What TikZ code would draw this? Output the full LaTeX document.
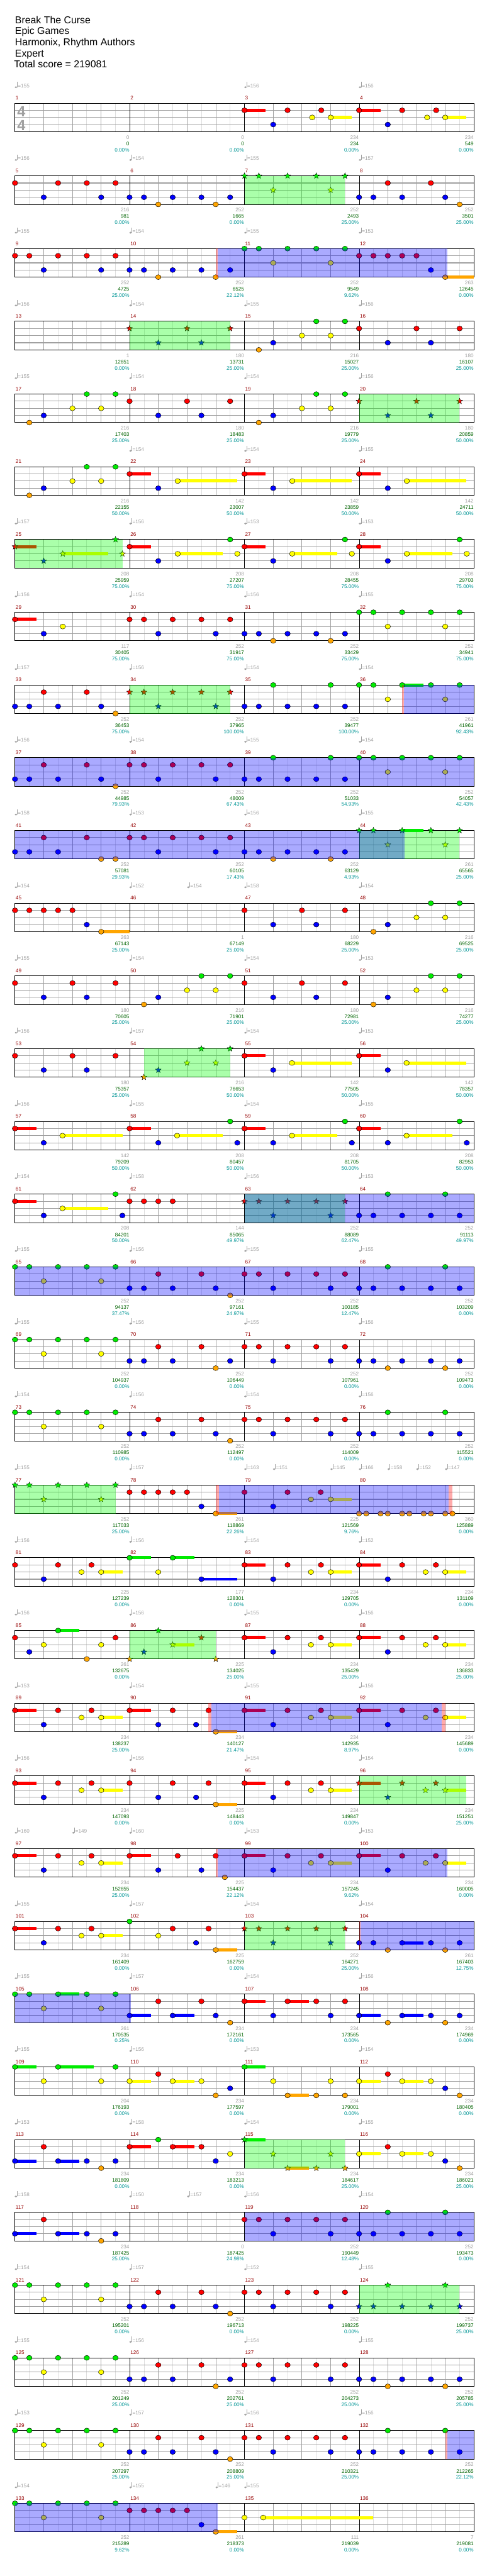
\documentclass[tikz,border=0pt]{standalone}
\usepackage{fontspec}
\setmainfont{Liberation Sans}
\usetikzlibrary{shapes.geometric}

\definecolor{lane0}{RGB}{0,235,0}
\definecolor{lane1}{RGB}{255,0,0}
\definecolor{lane2}{RGB}{255,255,0}
\definecolor{lane3}{RGB}{0,0,255}
\definecolor{lane4}{RGB}{255,165,0}
\definecolor{barred}{RGB}{150,0,0}
\definecolor{scoregray}{RGB}{160,160,160}
\definecolor{scoregreen}{RGB}{0,100,0}
\definecolor{scoreteal}{RGB}{0,150,150}
\definecolor{gridlight}{RGB}{222,222,222}
\definecolor{griddark}{RGB}{160,160,160}
\definecolor{odgreencol}{RGB}{0,255,0}
\definecolor{odbluecol}{RGB}{0,0,255}

\newcommand{\chartfont}{\fontsize{10.8}{12}\selectfont}

\tikzset{
  halfbeat/.style={gridlight, line width=0.8pt},
  beatline/.style={griddark, line width=0.8pt},
  laneline/.style={griddark, line width=1.4pt},
  barline/.style={black, line width=0.9pt},
  border/.style={black, line width=1.3pt},
  gem/.style={ellipse, draw=black, line width=0.6pt, minimum width=11.5pt, minimum height=10.5pt, inner sep=0pt},
  stargem/.style={star, star points=5, star point ratio=2.3, draw=black, line width=0.5pt, minimum size=13pt, inner sep=0pt},
  barnum/.style={anchor=base west, text=barred, font=\chartfont, inner sep=0pt},
  tempotext/.style={anchor=base west, text=scoregray, font=\chartfont, inner sep=0pt},
  ptsgray/.style={anchor=base east, text=scoregray, font=\chartfont, inner sep=0pt},
  ptsgreen/.style={anchor=base east, text=scoregreen, font=\chartfont, inner sep=0pt},
  ptsteal/.style={anchor=base east, text=scoreteal, font=\chartfont, inner sep=0pt},
  headline/.style={anchor=base west, font=\fontsize{21}{24}\selectfont, inner sep=0pt},
  timesig/.style={anchor=base, text=griddark, font=\fontsize{31}{31}\selectfont\bfseries, inner sep=0pt},
  odgreen/.style={fill=odgreencol, fill opacity=0.333},
  odblue/.style={fill=odbluecol, fill opacity=0.333},
  odred/.style={fill=red, fill opacity=0.333}
}

% 五线谱格子与小节号
\newcommand{\staff}[1]{%
  \foreach \k in {1,3,...,31} \draw[halfbeat] (48+45.9375*\k,0) -- (48+45.9375*\k,60);
  \foreach \k in {2,4,...,30} \draw[beatline] (48+45.9375*\k,0) -- (48+45.9375*\k,60);
  \foreach \yy in {15,30,45} \draw[laneline] (48,\yy) -- (1518,\yy);
  \foreach \k in {1,2,3} \draw[barline] (48+367.5*\k,0) -- (48+367.5*\k,60);
  \draw[border] (48,0) rectangle (1518,60);
  \foreach \i in {0,...,3} \node[barnum] (bar\i) at (50+367.5*\i,-7) {\the\numexpr#1+\i\relax};
}
% 速度标记
\newcommand{\tempi}[1]{%
  \foreach \tx/\tv in {#1}{%
    \fill[scoregray] (\tx+3,-33.5) ellipse (2.6pt and 2pt);
    \draw[scoregray, line width=0.7pt] (\tx+6.6,-33.5) -- (\tx+6.6,-44.5);
    \node[tempotext] at (\tx+9,-33) {=\tv};
  }}
% 延音条
\newcommand{\holds}[1]{%
  \foreach \ha/\hb/\hl in {#1} \fill[lane\hl] (\ha,15*\hl-3.3) rectangle (\hb,15*\hl+3.3);}
% 音符
\newcommand{\gems}[1]{%
  \foreach \gx/\gl in {#1} \node[gem, fill=lane\gl] at (\gx,15*\gl) {};}
\newcommand{\stargems}[1]{%
  \foreach \gx/\gl in {#1} \node[stargem, fill=lane\gl] at (\gx,15*\gl) {};}
% 能量区
\newcommand{\odphrase}[1]{\foreach \ha/\hb in {#1} \fill[odgreen] (\ha,0) rectangle (\hb,60);}
\newcommand{\odzone}[1]{\foreach \ha/\hb in {#1} \fill[odblue] (\ha,0) rectangle (\hb,60);}
\newcommand{\odlead}[1]{\foreach \ha/\hb in {#1} \fill[odred] (\ha,0) rectangle (\hb,60);}
% 小节得分
\newcommand{\scores}[1]{%
  \foreach \sa/\sb/\sc [count=\i] in {#1}{%
    \node[ptsgray]  at (47+367.5*\i,75.7) {\sa};
    \node[ptsgreen] at (47+367.5*\i,89) {\sb};
    \node[ptsteal]  at (47+367.5*\i,102) {\sc\%};
  }}

\begin{document}
\begin{tikzpicture}[x=0.6565pt, y=-1pt]
  \fill[white] (0,0) rectangle (1559.8,5419);
  \useasboundingbox (0,0) rectangle (1559.8,5419);
  % 标题
  \node[headline] (title)  at (48,49.3)  {Break The Curse};
  \node[headline] (artist) at (48,72.6)  {Epic Games};
  \node[headline] (author) at (48,96)    {Harmonix, Rhythm Authors};
  \node[headline] (level)  at (48,119.3) {Expert};
  \node[headline] (total)  at (45,142.6) {Total score = 219081};

  % 第1行
  \begin{scope}[shift={(0,217)}]
    \staff{1}
    \node[timesig] (sigtop) at (68.5,28) {4};
    \node[timesig] (sigbot) at (68.5,57) {4};
    \tempi{48/155, 783/156, 1150/156}
    \holds{783/851/1, 1059/1127/2, 1150/1219/1, 1426/1494/2}
    \gems{783/1, 875/3, 921/1, 1000/2, 1029/1, 1059/2, 1150/1, 1242/3, 1288/1, 1368/2, 1397/1, 1426/2}
    \scores{0/0/0.00, 0/0/0.00, 234/234/0.00, 234/549/0.00}
  \end{scope}
  % 第2行
  \begin{scope}[shift={(0,370)}]
    \staff{5}
    \tempi{48/156, 415/154, 783/155, 1150/157}
    \gems{48/1, 140/3, 186/1, 278/1, 324/3, 370/1, 415/3, 461/3, 507/4, 553/3, 645/3, 691/4, 737/3, 1150/3, 1196/3, 1242/1, 1288/3, 1380/1, 1426/3, 1472/4}
    \stargems{783/0, 829/0, 875/2, 921/0, 1013/0, 1059/2, 1105/0}
    \odphrase{783/1105}
    \scores{216/981/0.00, 252/1665/0.00, 252/2493/25.00, 252/3501/25.00}
  \end{scope}
  % 第3行
  \begin{scope}[shift={(0,523)}]
    \staff{9}
    \tempi{48/155, 415/154, 783/155, 1150/153}
    \holds{1426/1518/4}
    \gems{48/1, 94/1, 140/3, 186/1, 278/1, 324/3, 370/1, 415/3, 461/3, 507/4, 553/3, 645/3, 691/4, 737/3, 783/0, 829/0, 875/2, 921/0, 1013/0, 1059/2, 1105/0, 1150/1, 1196/1, 1242/1, 1288/1, 1334/1, 1380/3, 1426/4}
    \odlead{691/697}
    \odzone{697/1432}
    \scores{252/4725/25.00, 252/6525/22.12, 252/9549/9.62, 263/12645/0.00}
  \end{scope}
  % 第4行
  \begin{scope}[shift={(0,676)}]
    \staff{13}
    \tempi{48/156, 415/154, 783/155, 1150/156}
    \gems{829/4, 875/3, 967/2, 1013/0, 1059/2, 1105/0, 1150/1, 1242/3, 1334/1, 1380/3, 1472/1}
    \stargems{415/1, 507/3, 599/1, 645/3, 737/1}
    \odphrase{415/737}
    \scores{1/12651/0.00, 180/13731/25.00, 216/15027/25.00, 180/16107/25.00}
  \end{scope}
  % 第5行
  \begin{scope}[shift={(0,829)}]
    \staff{17}
    \tempi{48/155, 415/154, 783/154, 1150/156}
    \gems{94/4, 140/3, 232/2, 278/0, 324/2, 370/0, 415/1, 507/3, 599/1, 645/3, 737/1, 829/4, 875/3, 967/2, 1013/0, 1059/2, 1105/0}
    \stargems{1150/1, 1242/3, 1334/1, 1380/3, 1472/1}
    \odphrase{1150/1472}
    \scores{216/17403/25.00, 180/18483/25.00, 216/19779/25.00, 180/20859/50.00}
  \end{scope}
  % 第6行
  \begin{scope}[shift={(0,982)}]
    \staff{21}
    \tempi{415/154, 783/154, 1150/155}
    \holds{415/484/1, 569/759/2, 783/851/1, 936/1127/2, 1150/1219/1, 1303/1494/2}
    \gems{94/4, 140/3, 232/2, 278/0, 324/2, 370/0, 415/1, 507/3, 569/2, 783/1, 875/3, 936/2, 1150/1, 1242/3, 1303/2}
    \scores{216/22155/50.00, 142/23007/50.00, 142/23859/50.00, 142/24711/50.00}
  \end{scope}
  % 第7行
  \begin{scope}[shift={(0,1135)}]
    \staff{25}
    \tempi{48/157, 415/156, 783/153, 1150/153}
    \holds{48/116/1, 201/346/2, 415/484/1, 569/713/2, 783/851/1, 936/1081/2, 1150/1219/1, 1303/1449/2}
    \stargems{48/1, 140/3, 201/2, 370/0, 392/2}
    \gems{415/1, 507/3, 569/2, 737/0, 760/2, 783/1, 875/3, 936/2, 1105/0, 1127/2, 1150/1, 1242/3, 1303/2, 1472/0, 1495/2}
    \odphrase{48/392}
    \scores{208/25959/75.00, 208/27207/75.00, 208/28455/75.00, 208/29703/75.00}
  \end{scope}
  % 第8行
  \begin{scope}[shift={(0,1288)}]
    \staff{29}
    \tempi{48/156, 415/154, 783/156, 1150/155}
    \holds{48/116/1}
    \gems{48/1, 140/3, 201/2, 415/1, 461/1, 507/3, 553/1, 645/1, 691/3, 737/1, 783/3, 829/3, 875/4, 921/3, 1013/3, 1059/4, 1105/3, 1150/0, 1196/0, 1242/2, 1288/0, 1380/0, 1426/2, 1472/0}
    \scores{117/30405/75.00, 252/31917/75.00, 252/33429/75.00, 252/34941/75.00}
  \end{scope}
  % 第9行
  \begin{scope}[shift={(0,1441)}]
    \staff{33}
    \tempi{48/157, 415/156, 783/154, 1150/154}
    \holds{1288/1357/0}
    \gems{48/3, 94/3, 140/1, 186/3, 278/1, 324/3, 370/4, 783/3, 829/3, 875/0, 921/3, 1013/3, 1059/0, 1105/3, 1150/0, 1196/0, 1242/2, 1288/0, 1380/0, 1426/2, 1472/0}
    \stargems{415/1, 461/1, 507/3, 553/1, 645/1, 691/3, 737/1}
    \odphrase{415/737}
    \odlead{1288/1293}
    \odzone{1293/1518}
    \scores{252/36453/75.00, 252/37965/100.00, 252/39477/100.00, 261/41961/92.43}
  \end{scope}
  % 第10行
  \begin{scope}[shift={(0,1594)}]
    \staff{37}
    \tempi{48/156, 415/154, 783/155, 1150/154}
    \gems{48/3, 94/3, 140/1, 186/3, 278/1, 324/3, 370/4, 415/1, 461/1, 507/3, 553/1, 645/1, 691/3, 737/1, 783/3, 829/3, 875/0, 921/3, 1013/3, 1059/0, 1105/3, 1150/0, 1196/0, 1242/2, 1288/0, 1380/0, 1426/2, 1472/0}
    \odzone{48/1518}
    \scores{252/44985/79.93, 252/48009/67.43, 252/51033/54.93, 252/54057/42.43}
  \end{scope}
  % 第11行
  \begin{scope}[shift={(0,1747)}]
    \staff{41}
    \tempi{48/158, 415/153, 783/156, 1150/155}
    \holds{1288/1357/0}
    \gems{48/3, 94/3, 140/1, 186/3, 278/1, 324/4, 370/4, 415/1, 461/1, 507/3, 553/1, 645/1, 691/3, 737/1, 783/3, 829/3, 875/4, 921/3, 1013/3, 1059/4, 1105/3}
    \stargems{1150/0, 1196/0, 1242/2, 1288/0, 1380/0, 1426/2, 1472/0}
    \odphrase{1150/1472}
    \odzone{48/1295}
    \scores{252/57081/29.93, 252/60105/17.43, 252/63129/4.93, 261/65565/25.00}
  \end{scope}
  % 第12行
  \begin{scope}[shift={(0,1900)}]
    \staff{45}
    \tempi{48/154, 415/152, 600/154, 783/158, 1150/154}
    \holds{324/415/4}
    \gems{48/1, 94/1, 140/1, 186/1, 232/1, 278/3, 324/4, 783/1, 875/3, 967/1, 1013/3, 1105/1, 1196/4, 1242/3, 1334/2, 1380/0, 1426/2, 1472/0}
    \scores{263/67143/25.00, 1/67149/25.00, 180/68229/25.00, 216/69525/25.00}
  \end{scope}
  % 第13行
  \begin{scope}[shift={(0,2053)}]
    \staff{49}
    \tempi{48/155, 415/154, 783/154, 1150/153}
    \gems{48/1, 140/3, 232/1, 278/3, 370/1, 461/4, 507/3, 599/2, 645/0, 691/2, 737/0, 783/1, 875/3, 967/1, 1013/3, 1105/1, 1196/4, 1242/3, 1334/2, 1380/0, 1426/2, 1472/0}
    \scores{180/70605/25.00, 216/71901/25.00, 180/72981/25.00, 216/74277/25.00}
  \end{scope}
  % 第14行
  \begin{scope}[shift={(0,2206)}]
    \staff{53}
    \tempi{48/156, 415/157, 783/154, 1150/153}
    \holds{783/851/1, 935/1127/2, 1150/1219/1, 1302/1494/2}
    \gems{48/1, 140/3, 232/1, 278/3, 370/1, 783/1, 875/3, 935/2, 1150/1, 1242/3, 1302/2}
    \stargems{461/4, 507/3, 599/2, 645/0, 691/2, 737/0}
    \odphrase{461/737}
    \scores{180/75357/25.00, 216/76653/50.00, 142/77505/50.00, 142/78357/50.00}
  \end{scope}
  % 第15行
  \begin{scope}[shift={(0,2359)}]
    \staff{57}
    \tempi{48/156, 415/155, 783/154, 1150/155}
    \holds{48/116/1, 200/392/2, 415/484/1, 567/713/2, 783/851/1, 935/1081/2, 1150/1219/1, 1302/1449/2}
    \gems{48/1, 140/3, 200/2, 415/1, 507/3, 567/2, 737/0, 760/3, 783/1, 875/3, 935/2, 1105/0, 1127/3, 1150/1, 1242/3, 1302/2, 1472/0, 1495/3}
    \scores{142/79209/50.00, 208/80457/50.00, 208/81705/50.00, 208/82953/50.00}
  \end{scope}
  % 第16行
  \begin{scope}[shift={(0,2512)}]
    \staff{61}
    \tempi{48/154, 415/158, 783/156, 1150/153}
    \holds{48/116/1, 200/346/2}
    \gems{48/1, 140/3, 200/2, 370/0, 392/3, 415/1, 461/1, 507/1, 553/1, 1150/3, 1196/3, 1242/0, 1288/3, 1380/3, 1426/0, 1472/3}
    \stargems{783/1, 829/1, 875/3, 921/1, 1013/1, 1059/3, 1105/1}
    \odphrase{783/1105}
    \odzone{783/1518}
    \scores{208/84201/50.00, 144/85065/49.97, 252/88089/62.47, 252/91113/49.97}
  \end{scope}
  % 第17行
  \begin{scope}[shift={(0,2665)}]
    \staff{65}
    \tempi{48/155, 415/156, 783/155, 1150/155}
    \gems{48/0, 94/0, 140/2, 186/0, 278/0, 324/2, 370/0, 415/3, 461/3, 507/1, 553/3, 645/1, 691/3, 737/4, 783/1, 829/1, 875/3, 921/1, 1013/1, 1059/3, 1105/1, 1150/3, 1196/3, 1242/0, 1288/3, 1380/3, 1426/0, 1472/3}
    \odzone{48/1518}
    \scores{252/94137/37.47, 252/97161/24.97, 252/100185/12.47, 252/103209/0.00}
  \end{scope}
  % 第18行
  \begin{scope}[shift={(0,2818)}]
    \staff{69}
    \tempi{48/155, 415/156, 783/155, 1150/156}
    \gems{48/0, 94/0, 140/2, 186/0, 278/0, 324/2, 370/0, 415/3, 461/3, 507/1, 553/3, 645/1, 691/4, 737/3, 783/1, 829/1, 875/3, 921/1, 1013/1, 1059/3, 1105/1, 1150/3, 1196/3, 1242/4, 1288/3, 1380/3, 1426/4, 1472/3}
    \scores{252/104937/0.00, 252/106449/0.00, 252/107961/0.00, 252/109473/0.00}
  \end{scope}
  % 第19行
  \begin{scope}[shift={(0,2971)}]
    \staff{73}
    \tempi{48/154, 415/156, 783/154, 1150/156}
    \gems{48/0, 94/0, 140/2, 186/0, 278/0, 324/2, 370/0, 415/3, 461/3, 507/1, 553/3, 645/1, 691/3, 737/4, 783/1, 829/1, 875/3, 921/1, 1013/1, 1059/3, 1105/1, 1150/3, 1196/3, 1242/0, 1288/3, 1380/3, 1426/0, 1472/3}
    \scores{252/110985/0.00, 252/112497/0.00, 252/114009/0.00, 252/115521/0.00}
  \end{scope}
  % 第20行
  \begin{scope}[shift={(0,3124)}]
    \staff{77}
    \tempi{48/155, 415/157, 783/163, 875/151, 1059/145, 1150/166, 1242/158, 1334/152, 1426/147}
    \holds{691/759/4, 1059/1127/2}
    \stargems{48/0, 94/0, 140/2, 186/0, 278/0, 324/2, 370/0}
    \gems{415/1, 461/1, 507/1, 553/1, 599/1, 645/3, 691/4, 783/1, 875/3, 921/1, 996/2, 1027/1, 1059/2, 1150/4, 1173/4, 1219/4, 1242/4, 1288/4, 1311/4, 1357/4, 1380/4, 1426/4, 1449/4}
    \odphrase{48/370}
    \odlead{691/701, 1437/1449}
    \odzone{701/1437}
    \scores{252/117033/25.00, 261/118869/22.26, 225/121569/9.76, 360/125889/0.00}
  \end{scope}
  % 第21行
  \begin{scope}[shift={(0,3277)}]
    \staff{81}
    \tempi{48/156, 415/156, 783/154, 1150/152}
    \holds{324/392/2, 415/484/0, 553/622/0, 645/759/3, 783/851/1, 1059/1127/2, 1150/1219/1, 1426/1494/2}
    \gems{48/1, 140/3, 186/1, 261/2, 293/1, 324/2, 415/0, 507/2, 553/0, 645/3, 783/1, 875/3, 921/1, 996/2, 1028/1, 1059/2, 1150/1, 1242/3, 1288/1, 1363/2, 1396/1, 1426/2}
    \scores{225/127239/0.00, 177/128301/0.00, 234/129705/0.00, 234/131109/0.00}
  \end{scope}
  % 第22行
  \begin{scope}[shift={(0,3430)}]
    \staff{85}
    \tempi{48/156, 415/156, 783/155, 1150/156}
    \holds{186/254/0, 553/622/2, 783/851/1, 1059/1127/2, 1150/1219/1, 1426/1494/2}
    \gems{48/1, 94/3, 140/2, 186/0, 278/4, 324/2, 370/1, 783/1, 875/3, 921/1, 996/2, 1028/1, 1059/2, 1150/1, 1242/3, 1288/1, 1363/2, 1396/1, 1426/2}
    \stargems{415/4, 461/3, 507/0, 553/2, 645/1, 691/4}
    \odphrase{415/691}
    \scores{261/132675/0.00, 225/134025/25.00, 234/135429/25.00, 234/136833/25.00}
  \end{scope}
  % 第23行
  \begin{scope}[shift={(0,3583)}]
    \staff{89}
    \tempi{48/153, 415/154, 783/155, 1150/156}
    \holds{48/116/1, 324/392/2, 415/484/1, 691/759/4, 783/851/1, 1059/1127/2, 1150/1219/1, 1426/1494/2}
    \gems{48/1, 140/3, 186/1, 261/2, 293/1, 324/2, 415/1, 507/3, 553/1, 628/3, 668/1, 691/4, 783/1, 875/3, 921/1, 996/2, 1028/1, 1059/2, 1150/1, 1242/3, 1288/1, 1363/2, 1396/1, 1426/2}
    \odlead{668/677, 1414/1426}
    \odzone{677/1414}
    \scores{234/138237/25.00, 234/140127/21.47, 234/142935/8.97, 234/145689/0.00}
  \end{scope}
  % 第24行
  \begin{scope}[shift={(0,3736)}]
    \staff{93}
    \tempi{48/156, 415/156, 783/154, 1150/154}
    \holds{48/116/1, 324/392/2, 691/759/4, 783/851/1, 1059/1127/2, 1150/1219/1, 1426/1494/2}
    \gems{48/1, 140/3, 186/1, 261/2, 293/1, 324/2, 415/1, 507/3, 553/1, 628/3, 668/1, 691/4, 783/1, 875/3, 921/1, 996/2, 1028/1, 1059/2}
    \stargems{1150/1, 1242/3, 1288/1, 1363/2, 1396/1, 1426/2}
    \odphrase{1150/1494}
    \scores{234/147093/0.00, 225/148443/0.00, 234/149847/0.00, 234/151251/25.00}
  \end{scope}
  % 第25行
  \begin{scope}[shift={(0,3889)}]
    \staff{97}
    \tempi{48/160, 232/149, 415/160, 783/153, 1150/153}
    \holds{48/116/1, 324/392/2, 415/484/1, 783/851/1, 1059/1127/2, 1150/1219/1, 1426/1494/2}
    \gems{48/1, 140/3, 186/1, 261/2, 293/1, 324/2, 415/1, 507/3, 569/1, 645/3, 691/1, 720/4, 783/1, 875/3, 921/1, 996/2, 1028/1, 1059/2, 1150/1, 1242/3, 1288/1, 1363/2, 1396/1, 1426/2}
    \odlead{691/697}
    \odzone{697/1432}
    \scores{234/152655/25.00, 225/154437/22.12, 234/157245/9.62, 234/160005/0.00}
  \end{scope}
  % 第26行
  \begin{scope}[shift={(0,4042)}]
    \staff{101}
    \tempi{48/155, 415/157, 783/154, 1150/154}
    \holds{48/116/1, 324/392/2, 691/759/4, 1288/1357/3}
    \gems{48/1, 140/3, 186/1, 261/2, 293/1, 324/2, 415/0, 507/2, 553/1, 628/3, 668/1, 691/4, 1150/3, 1196/3, 1242/4, 1288/3, 1380/3, 1426/4, 1472/3}
    \stargems{783/1, 829/1, 875/3, 921/1, 1013/1, 1059/3, 1105/1}
    \odphrase{783/1105}
    \odlead{1150/1155}
    \odzone{1155/1518}
    \scores{234/161409/0.00, 225/162759/0.00, 252/164271/25.00, 261/167403/12.75}
  \end{scope}
  % 第27行
  \begin{scope}[shift={(0,4195)}]
    \staff{105}
    \tempi{48/155, 415/157, 783/154, 1150/156}
    \holds{186/254/0, 415/484/3, 553/622/3, 783/851/1, 921/989/1, 1150/1219/3, 1288/1357/3}
    \gems{48/0, 94/0, 140/2, 186/0, 278/0, 324/2, 370/0, 415/3, 507/1, 553/3, 645/1, 691/3, 737/4, 783/1, 875/3, 921/1, 1013/1, 1059/3, 1105/1, 1150/3, 1242/4, 1288/3, 1380/3, 1426/4, 1472/3}
    \odzone{48/420}
    \scores{261/170535/0.25, 234/172161/0.00, 234/173565/0.00, 234/174969/0.00}
  \end{scope}
  % 第28行
  \begin{scope}[shift={(0,4348)}]
    \staff{109}
    \tempi{48/155, 415/156, 783/153, 1150/154}
    \holds{48/116/0, 186/300/0, 415/484/2, 553/622/2, 783/851/0, 921/989/4, 1150/1219/2, 1288/1357/2}
    \gems{48/0, 140/2, 186/0, 324/2, 370/0, 415/2, 507/1, 553/2, 645/2, 691/4, 737/3, 783/0, 875/2, 921/4, 1013/4, 1059/2, 1105/4, 1150/2, 1242/1, 1288/2, 1380/2, 1426/3, 1472/4}
    \scores{204/176193/0.00, 234/177597/0.00, 234/179001/0.00, 234/180405/0.00}
  \end{scope}
  % 第29行
  \begin{scope}[shift={(0,4501)}]
    \staff{113}
    \tempi{48/153, 415/158, 783/154, 1150/155}
    \holds{48/116/3, 186/254/3, 415/484/1, 553/622/1, 783/851/0, 921/989/4, 1150/1219/2, 1288/1357/2}
    \gems{48/3, 140/1, 186/3, 278/3, 324/4, 370/3, 415/1, 507/0, 553/1, 645/1, 691/3, 737/2, 1150/2, 1242/1, 1288/2, 1380/2, 1426/3, 1472/4}
    \stargems{783/0, 875/2, 921/4, 1013/4, 1059/2, 1105/4}
    \odphrase{783/1105}
    \scores{234/181809/0.00, 234/183213/0.00, 234/184617/25.00, 234/186021/25.00}
  \end{scope}
  % 第30行
  \begin{scope}[shift={(0,4654)}]
    \staff{117}
    \tempi{48/158, 415/150, 600/157, 783/156, 1150/154}
    \holds{48/116/3, 186/254/3}
    \gems{48/3, 140/1, 186/3, 278/3, 324/4, 370/3, 783/1, 829/1, 875/3, 921/1, 1013/1, 1059/3, 1105/1, 1150/3, 1196/3, 1242/0, 1288/3, 1380/3, 1426/0, 1472/3}
    \odzone{783/1518}
    \scores{234/187425/25.00, 0/187425/24.98, 252/190449/12.48, 252/193473/0.00}
  \end{scope}
  % 第31行
  \begin{scope}[shift={(0,4807)}]
    \staff{121}
    \tempi{48/154, 415/157, 783/152, 1150/155}
    \gems{48/0, 94/0, 140/2, 186/0, 278/0, 324/2, 370/0, 415/3, 461/3, 507/1, 553/3, 645/1, 691/3, 737/4, 783/1, 829/1, 875/3, 921/1, 1013/1, 1059/3, 1105/1}
    \stargems{1150/3, 1196/3, 1242/0, 1288/3, 1380/3, 1426/0, 1472/3}
    \odphrase{1150/1472}
    \scores{252/195201/0.00, 252/196713/0.00, 252/198225/0.00, 252/199737/25.00}
  \end{scope}
  % 第32行
  \begin{scope}[shift={(0,4960)}]
    \staff{125}
    \tempi{48/155, 415/156, 783/154, 1150/155}
    \gems{48/0, 94/0, 140/2, 186/0, 278/0, 324/2, 370/0, 415/3, 461/3, 507/1, 553/3, 645/1, 691/4, 737/3, 783/1, 829/1, 875/3, 921/1, 1013/1, 1059/3, 1105/1, 1150/3, 1196/3, 1242/4, 1288/3, 1380/3, 1426/4, 1472/3}
    \scores{252/201249/25.00, 252/202761/25.00, 252/204273/25.00, 252/205785/25.00}
  \end{scope}
  % 第33行
  \begin{scope}[shift={(0,5113)}]
    \staff{129}
    \tempi{48/153, 415/157, 783/156, 1150/156}
    \gems{48/0, 94/0, 140/2, 186/0, 278/0, 324/2, 370/0, 415/3, 461/3, 507/1, 553/3, 645/1, 691/3, 737/4, 783/1, 829/1, 875/3, 921/1, 1013/1, 1059/3, 1105/1, 1150/3, 1196/3, 1242/0, 1288/3, 1380/3, 1426/0, 1472/3}
    \odlead{1426/1432}
    \odzone{1432/1518}
    \scores{252/207297/25.00, 252/208809/25.00, 252/210321/25.00, 252/212265/22.12}
  \end{scope}
  % 第34行
  \begin{scope}[shift={(0,5266)}]
    \staff{133}
    \tempi{48/154, 415/155, 691/146, 783/155}
    \holds{691/759/4, 843/1196/2}
    \gems{48/0, 94/0, 140/2, 186/0, 278/0, 324/2, 370/0, 415/1, 461/1, 507/1, 553/1, 599/1, 645/3, 691/4, 783/2, 843/2}
    \odzone{48/697}
    \scores{252/215289/9.62, 261/218373/0.00, 111/219039/0.00, 7/219081/0.00}
  \end{scope}
\end{tikzpicture}
\end{document}
